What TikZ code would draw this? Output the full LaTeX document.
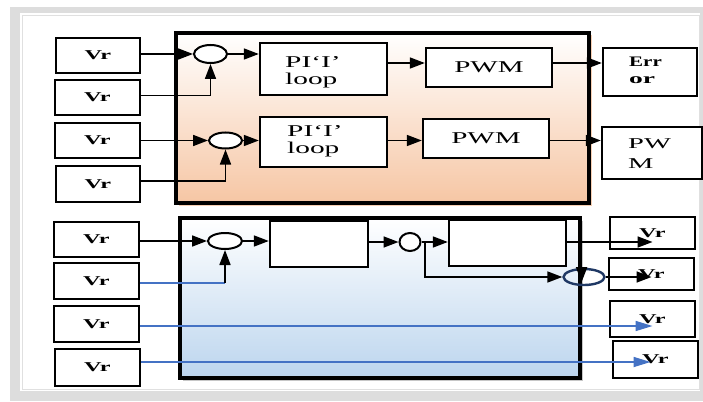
\documentclass[tikz,border=0pt]{standalone}
\usepackage{fontspec}
\setmainfont{Liberation Serif}
\usetikzlibrary{arrows.meta,calc,shapes.geometric}
\definecolor{peach}{HTML}{F6C6A4}
\definecolor{lblue}{HTML}{BCD5EE}
\definecolor{lineblue}{HTML}{4472C4}
\definecolor{navy}{HTML}{1F3864}
\definecolor{framegrey}{HTML}{DDDDDD}
\newcommand\sx[2]{\scalebox{#1}[1]{#2}}
\newcommand\vrtext{\sx{1.8}{\fontsize{13.5}{15}\selectfont\bfseries Vr}}
\newcommand\pwmtext{\sx{1.76}{\fontsize{16.5}{18}\selectfont PWM}}
\newcommand\pitext{\sx{1.78}{\fontsize{16.5}{17}\selectfont\begin{tabular}{@{}l@{}}PI‘I’\\loop\end{tabular}}}
\begin{document}
\begin{tikzpicture}[x=1pt,y=-1pt,
  box/.style 2 args={draw=black, line width=2.4pt, fill=white, inner sep=0pt, minimum width=#1, minimum height=#2},
  bigbox/.style={draw=black, line width=3.2pt, inner sep=0pt},
  sumc/.style={ellipse, draw=black, line width=2pt, fill=white, inner sep=0pt},
  txt/.style={inner sep=0pt},
  arr/.style={-{Triangle[length=15pt,width=11pt]}, line width=1.7pt},
  barr/.style={-{Triangle[length=17pt,width=10pt]}, line width=1.7pt, draw=lineblue, color=lineblue},
  bline/.style={line width=1.7pt, draw=lineblue}]
\useasboundingbox (0,0) rectangle (703,401);
% frame
\fill[framegrey] (10,7) rectangle (703,401);
\fill[white] (20,13) rectangle (700,391);
\draw[black!12, line width=1pt] (22.5,15.5) rectangle (699.5,389.5);
% shadows
\fill[peach!85] (178.5,35.5) rectangle (591.5,205.5);
\fill[black!22] (182.5,220.5) rectangle (582.5,380.5);
% big boxes
\node[bigbox, top color=white, bottom color=peach, minimum width=413, minimum height=170] (orng) at (382.5,118) {};
\node[bigbox, top color=white, bottom color=lblue, minimum width=400, minimum height=160] (blu) at (380,298) {};
% left inputs
\node[box={84}{35}] (vr1) at (98,55.5) {\vrtext};
\node[box={85}{35}] (vr2) at (97.5,97.5) {\vrtext};
\node[box={85}{35}] (vr3) at (97.5,140.5) {\vrtext};
\node[box={84}{36}] (vr4) at (98,184) {\vrtext};
\node[box={85}{35}] (vr5) at (96.5,239.5) {\vrtext};
\node[box={85}{36}] (vr6) at (96.5,281) {\vrtext};
\node[box={85}{36}] (vr7) at (96.5,324) {\vrtext};
\node[box={85}{37}] (vr8) at (97.5,367.5) {\vrtext};
% top block
\node[sumc, minimum width=33, minimum height=18] (c1) at (210.5,54) {};
\node[sumc, minimum width=33, minimum height=16] (c2) at (225.5,140.5) {};
\node[box={127}{52}] (pi1) at (323.5,69) {};
\node[box={127}{50}] (pi2) at (323.5,142) {};
\node[box={126}{39}] (pwm1) at (489,67.5) {\pwmtext};
\node[box={126}{39}] (pwm2) at (486,138.5) {\pwmtext};
\node[box={94}{48}] (err) at (650,72) {};
\node[box={100}{52}] (pwmo) at (652,153) {};
% bottom block
\node[sumc, minimum width=34, minimum height=16] (c3) at (225,241) {};
\node[box={98}{46}] (boxa) at (319,244) {};
\node[sumc, minimum width=21, minimum height=18] (sc) at (410,242) {};
\node[box={117}{46}] (boxb) at (507.5,243) {};
\node[ellipse, draw=navy, line width=2.4pt, inner sep=0pt, minimum width=41, minimum height=16] (ell) at (584,277) {};
\node[box={85}{32}] (vr9) at (652.5,233) {\vrtext};
\node[box={85}{32}] (vr10) at (651.5,274) {\vrtext};
\node[box={85}{36}] (vr11) at (652.5,319) {\vrtext};
\node[box={85}{37}] (vr12) at (655.5,359.5) {\vrtext};
% texts
\node[txt, anchor=west] (pi1t) at (285,73) {\pitext};
\node[txt, anchor=west] (pi2t) at (287,141.5) {\pitext};
\node[txt, anchor=west] (errt) at (629,72) {\fontsize{14.5}{17}\selectfont\bfseries\begin{tabular}{@{}l@{}}\sx{1.45}{Err}\\\sx{1.9}{or}\end{tabular}};
\node[txt, anchor=west] (pwmot) at (628,154) {\fontsize{15}{20}\selectfont\begin{tabular}{@{}l@{}}\sx{1.9}{PW}\\\sx{1.9}{M}\end{tabular}};
% connectors top
\coordinate (r1) at (0,63);
\draw[arr] (vr1.east |- c1.west) -- (c1.west);
\draw[arr] ([yshift=2pt]vr2.east) -| (c1.south);
\draw[arr] (c1.east) -- (c1.east -| pi1.west);
\draw[arr] (pi1.east |- r1) -- (pwm1.west |- r1);
\draw[arr] (pwm1.east |- r1) -- (err.west |- r1);
\draw[arr] (vr3.east |- c2.west) -- (c2.west);
\draw[arr] ([yshift=3pt]vr4.east) -| (c2.south);
\draw[arr] (c2.east) -- (c2.east -| pi2.west);
\draw[arr] (pi2.east |- c2) -- (pwm2.west |- c2);
\draw[arr] (pwm2.east |- c2) -- (pwmo.west |- c2);
% connectors bottom
\coordinate (r6) at (0,283);
\coordinate (r7) at (0,326);
\coordinate (r8) at (0,362);
\coordinate (br) at (425,242);
\draw[arr] (vr5.east |- c3.west) -- (c3.west);
\draw[bline] (vr6.east |- r6) -- (c3.south |- r6);
\draw[arr] (c3.south |- r6) -- (c3.south);
\draw[arr] (c3.east) -- (c3.east -| boxa.west);
\draw[arr] (boxa.east |- sc) -- (sc.west);
\draw[arr] (sc.east) -- (sc.east -| boxb.west);
\draw[arr] (br) |- (ell.west);
\draw[arr] (boxb.east |- sc) -- (vr9.center |- sc);
\draw[arr] (ell.east) -- (vr10.center |- ell.east);
\draw[arr] ([yshift=4pt]ell.north -| blu.east) -- ([yshift=4pt]ell.south -| blu.east);
\draw[barr] (vr7.east |- r7) -- (vr11.center |- r7);
\draw[barr] (vr8.east |- r8) -- ([xshift=-5pt]vr12.center |- r8);
\end{tikzpicture}
\end{document}
